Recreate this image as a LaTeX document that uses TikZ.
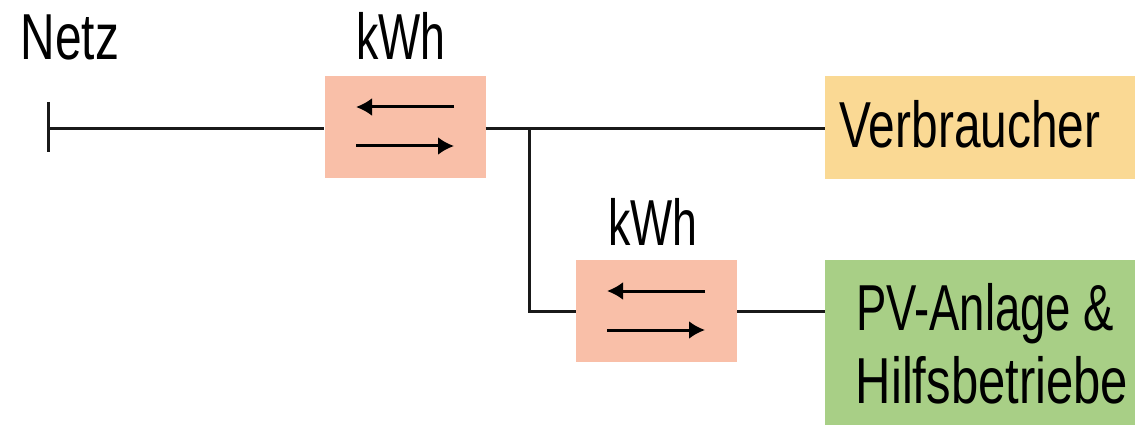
\documentclass[tikz,border=0pt]{standalone}
\usepackage{fontspec}
\usetikzlibrary{arrows.meta}
\setmainfont{Liberation Sans}
\definecolor{meter}{HTML}{F9BFA8}
\definecolor{load}{HTML}{FAD994}
\definecolor{pv}{HTML}{A8CF86}
\begin{document}
\begin{tikzpicture}[x=1pt,y=-1pt,
  meterbox/.style={fill=meter,draw=none,minimum width=161pt,minimum height=102pt,inner sep=0pt},
  wire/.style={line width=3pt,black!90},
  flow/.style={line width=3pt,-{Latex[length=16pt,width=18pt]}},
  lbl/.style={font=\fontsize{65}{70}\selectfont,inner sep=0pt,transform shape,anchor=base}]
\useasboundingbox (0,0) rectangle (1135,425);
\node[meterbox] (m1) at (405,127) {};
\node[meterbox] (m2) at (656.5,311) {};
\node[fill=load,minimum width=310pt,minimum height=102pt,inner sep=0pt] (v) at (980,127.5) {};
\node[fill=pv,minimum width=310pt,minimum height=165pt,inner sep=0pt] (p) at (980,342.5) {};
\node[lbl,xscale=.736] (tv) at (970,147) {Verbraucher};
\node[lbl,xscale=.70] (tp1) at (985,330) {PV-Anlage \&};
\node[lbl,xscale=.754] (tp2) at (992,403) {Hilfsbetriebe};
\node[lbl,xscale=.736] (tn) at (70,60) {Netz};
\node[lbl,xscale=.687] (tk1) at (401,60) {kWh};
\node[lbl,xscale=.687] (tk2) at (653,245) {kWh};
\coordinate (n) at (48,129);
\coordinate (nt) at (48,102);
\coordinate (nb) at (48,152);
\coordinate (j) at (529,129);
\coordinate (c) at (529,311);
\draw[wire] (nt) -- (nb);
\draw[wire] (n) -- (m1.west |- n);
\draw[wire] (m1.east |- j) -- (v.west |- j);
\draw[wire] (j) -- (c) -- (m2.west |- c);
\draw[wire] (m2.east |- c) -- (p.west |- c);
\coordinate (a1r) at (454,107);
\coordinate (a1l) at (356,107);
\coordinate (a2l) at (356,146);
\coordinate (a2r) at (454,146);
\coordinate (b1r) at (705,291);
\coordinate (b1l) at (607,291);
\coordinate (b2l) at (607,330);
\coordinate (b2r) at (705,330);
\draw[flow] (a1r) -- (a1l);
\draw[flow] (a2l) -- (a2r);
\draw[flow] (b1r) -- (b1l);
\draw[flow] (b2l) -- (b2r);
\end{tikzpicture}
\end{document}
